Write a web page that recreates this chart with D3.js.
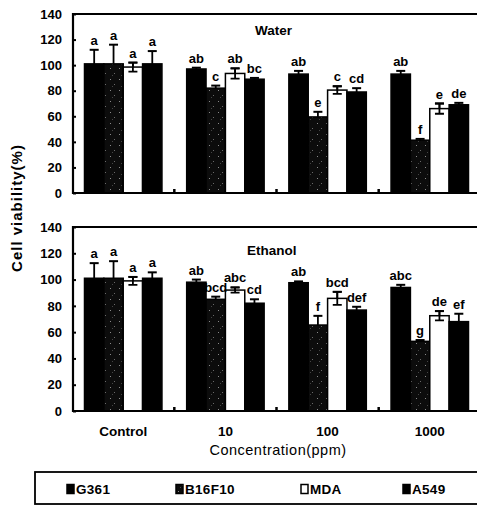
<!DOCTYPE html>
<html>
<head>
<meta charset="utf-8">
<script src="https://cdn.jsdelivr.net/npm/d3@7"></script>
<style>
  body { margin: 0; background: #fff; }
  svg { display: block; }
  text { font-family: "Liberation Sans", Arial, sans-serif; fill: #000; }
</style>
</head>
<body>
<div id="main"></div>
<script>
var groups = ['Control', '10', '100', '1000'];
var series = ['G361', 'B16F10', 'MDA', 'A549'];
var yTicks = [0, 20, 40, 60, 80, 100, 120, 140];

// mean, error and letter per group (rows) and series (columns)
var waterMean = [[101, 101, 98.5, 101], [97, 82, 93.5, 89], [93, 59.5, 80.5, 79], [93, 41.3, 66, 69]];
var waterErr = [[11, 15, 3.5, 10], [1, 2, 4, 1], [2.5, 4, 3, 3], [2.5, 1, 4, 1.5]];
var waterLetters = [['a', 'a', 'a', 'a'], ['ab', 'c', 'ab', 'bc'], ['ab', 'e', 'c', 'cd'], ['ab', 'f', 'e', 'de']];

var ethanolMean = [[101, 101, 99, 101], [98, 85, 92, 82], [97.6, 65.4, 85.7, 76.8], [94, 53, 72.5, 68]];
var ethanolErr = [[11.5, 13, 3, 4.5], [2, 2, 2, 3], [1, 7, 5, 2.5], [2, 1, 3.5, 6]];
var ethanolLetters = [['a', 'a', 'a', 'a'], ['ab', 'bcd', 'abc', 'cd'], ['ab', 'f', 'bcd', 'def'], ['abc', 'g', 'de', 'ef']];

var width = 477, height = 505;
var svg = d3.select('#main').append('svg')
    .attr('width', width).attr('height', height);

// speckled fill for B16F10
var defs = svg.append('defs');
var pat = defs.append('pattern')
    .attr('id', 'speckle')
    .attr('patternUnits', 'userSpaceOnUse')
    .attr('width', 9).attr('height', 11);
pat.append('rect').attr('width', 9).attr('height', 11).attr('fill', '#0c0c0c');
pat.append('rect').attr('x', 2).attr('y', 2).attr('width', 1).attr('height', 1).attr('fill', '#8a8a8a');
pat.append('rect').attr('x', 6).attr('y', 7).attr('width', 1).attr('height', 1).attr('fill', '#6a6a6a');
pat.append('rect').attr('x', 4).attr('y', 9).attr('width', 1).attr('height', 1).attr('fill', '#444');

var fills = ['#000', 'url(#speckle)', '#fff', '#000'];

var left = 73, right = 480;
var x = d3.scaleBand().domain(groups).range([left, right])
    .paddingInner(0.242).paddingOuter(0.1125);
var xs = d3.scaleBand().domain(series).range([0, x.bandwidth()]);

var panels = [
    { name: 'Water', mean: waterMean, err: waterErr, letters: waterLetters, top: 14, bottom: 193, tx: 255, ty: 35 },
    { name: 'Ethanol', mean: ethanolMean, err: ethanolErr, letters: ethanolLetters, top: 227, bottom: 411, tx: 247, ty: 255 }
];

panels.forEach(function(p) {
    var y = d3.scaleLinear().domain([0, 140]).range([p.bottom, p.top]);
    var g = svg.append('g');

    var rows = [];
    groups.forEach(function(grp, gi) {
        series.forEach(function(s, si) {
            rows.push({ group: grp, series: s, si: si, v: p.mean[gi][si], e: p.err[gi][si], l: p.letters[gi][si] });
        });
    });

    // error bars (drawn first, bars cover the lower half of dark ones)
    var eb = g.selectAll('.err').data(rows).enter().append('g').attr('class', 'err');
    var cx = function(d) { return x(d.group) + xs(d.series) + xs.bandwidth() / 2; };
    eb.append('line')
        .attr('x1', cx).attr('x2', cx)
        .attr('y1', function(d) { return y(d.v + d.e); })
        .attr('y2', function(d) { return y(d.v - d.e); })
        .attr('stroke', '#000').attr('stroke-width', 1.8);
    eb.append('line')
        .attr('x1', function(d) { return cx(d) - 4.5; }).attr('x2', function(d) { return cx(d) + 4.5; })
        .attr('y1', function(d) { return y(d.v + d.e); }).attr('y2', function(d) { return y(d.v + d.e); })
        .attr('stroke', '#000').attr('stroke-width', 2);

    g.selectAll('.bar').data(rows).enter().append('rect')
        .attr('class', 'bar')
        .attr('x', function(d) { return x(d.group) + xs(d.series); })
        .attr('width', xs.bandwidth())
        .attr('y', function(d) { return y(d.v); })
        .attr('height', function(d) { return y(0) - y(d.v); })
        .attr('fill', function(d) { return fills[d.si]; })
        .attr('stroke', '#000').attr('stroke-width', 1.5);

    // error bar over the white MDA bars
    var mda = rows.filter(function(d) { return d.series === 'MDA'; });
    g.selectAll('.mdaerr').data(mda).enter().append('path')
        .attr('class', 'mdaerr')
        .attr('d', function(d) {
            var c = cx(d), t = y(d.v + d.e), b = y(d.v - d.e);
            return 'M' + c + ',' + t + 'V' + b + 'M' + (c - 4.5) + ',' + t + 'H' + (c + 4.5) +
                'M' + (c - 4.5) + ',' + b + 'H' + (c + 4.5);
        })
        .attr('fill', 'none').attr('stroke', '#000').attr('stroke-width', 1.8);

    g.selectAll('.letter').data(rows).enter().append('text')
        .attr('class', 'letter')
        .attr('x', cx)
        .attr('y', function(d) { return y(d.v + d.e) - 5; })
        .attr('text-anchor', 'middle')
        .style('font-size', '13px').style('font-weight', 'bold')
        .text(function(d) { return d.l; });

    // frame: left axis, top line, bottom axis
    g.append('path')
        .attr('d', 'M' + right + ',' + p.top + 'H' + left + 'V' + p.bottom + 'H' + right)
        .attr('fill', 'none').attr('stroke', '#000').attr('stroke-width', 2.2);

    var yAxis = d3.axisLeft(y).tickValues(yTicks).tickSize(-3).tickPadding(11);
    var ya = g.append('g').attr('transform', 'translate(' + left + ',0)').call(yAxis);
    ya.select('.domain').remove();
    ya.selectAll('.tick line').attr('stroke', '#000').attr('stroke-width', 2);
    ya.selectAll('.tick text').style('font-size', '13px').style('font-weight', 'bold')
        .style('font-family', '"Liberation Sans", Arial, sans-serif');

    // small marks between the concentration groups
    var mids = groups.slice(1).map(function(grp, i) {
        return (x(groups[i]) + x.bandwidth() + x(grp)) / 2;
    });
    g.selectAll('.sep').data(mids).enter().append('line')
        .attr('x1', function(d) { return d; }).attr('x2', function(d) { return d; })
        .attr('y1', p.bottom).attr('y2', p.bottom - 4)
        .attr('stroke', '#000').attr('stroke-width', 2.5);

    g.append('text')
        .attr('x', p.tx).attr('y', p.ty)
        .style('font-size', '13.5px').style('font-weight', 'bold')
        .text(p.name);
});

// x labels under the lower panel
var xAxis = d3.axisBottom(x).tickSize(0).tickPadding(15);
var xa = svg.append('g').attr('transform', 'translate(0,411)').call(xAxis);
xa.select('.domain').remove();
xa.selectAll('.tick text').style('font-size', '13.5px').style('font-weight', 'bold')
    .style('font-family', '"Liberation Sans", Arial, sans-serif');

svg.append('text')
    .attr('x', 278).attr('y', 455)
    .attr('text-anchor', 'middle')
    .style('font-size', '14.5px').style('letter-spacing', '0.5px')
    .text('Concentration(ppm)');

svg.append('text')
    .attr('transform', 'translate(22,208) rotate(-90)')
    .attr('text-anchor', 'middle')
    .style('font-size', '15px').style('font-weight', 'bold').style('letter-spacing', '1px')
    .text('Cell viability(%)');

// legend
svg.append('rect')
    .attr('x', 35).attr('y', 472).attr('width', 460).attr('height', 32)
    .attr('fill', 'none').attr('stroke', '#000').attr('stroke-width', 1.8);
var legX = [67, 176, 301, 403];
var leg = svg.selectAll('.leg').data(series).enter().append('g')
    .attr('class', 'leg')
    .attr('transform', function(d, i) { return 'translate(' + legX[i] + ',489)'; });
leg.append('rect')
    .attr('x', 0).attr('y', -4.5).attr('width', 7).attr('height', 9)
    .attr('fill', function(d, i) { return fills[i]; })
    .attr('stroke', '#000').attr('stroke-width', 1.5);
leg.append('text')
    .attr('x', 9).attr('y', 5)
    .style('font-size', '13.5px').style('font-weight', 'bold').style('letter-spacing', '0.3px')
    .text(function(d) { return d; });
</script>
</body>
</html>
